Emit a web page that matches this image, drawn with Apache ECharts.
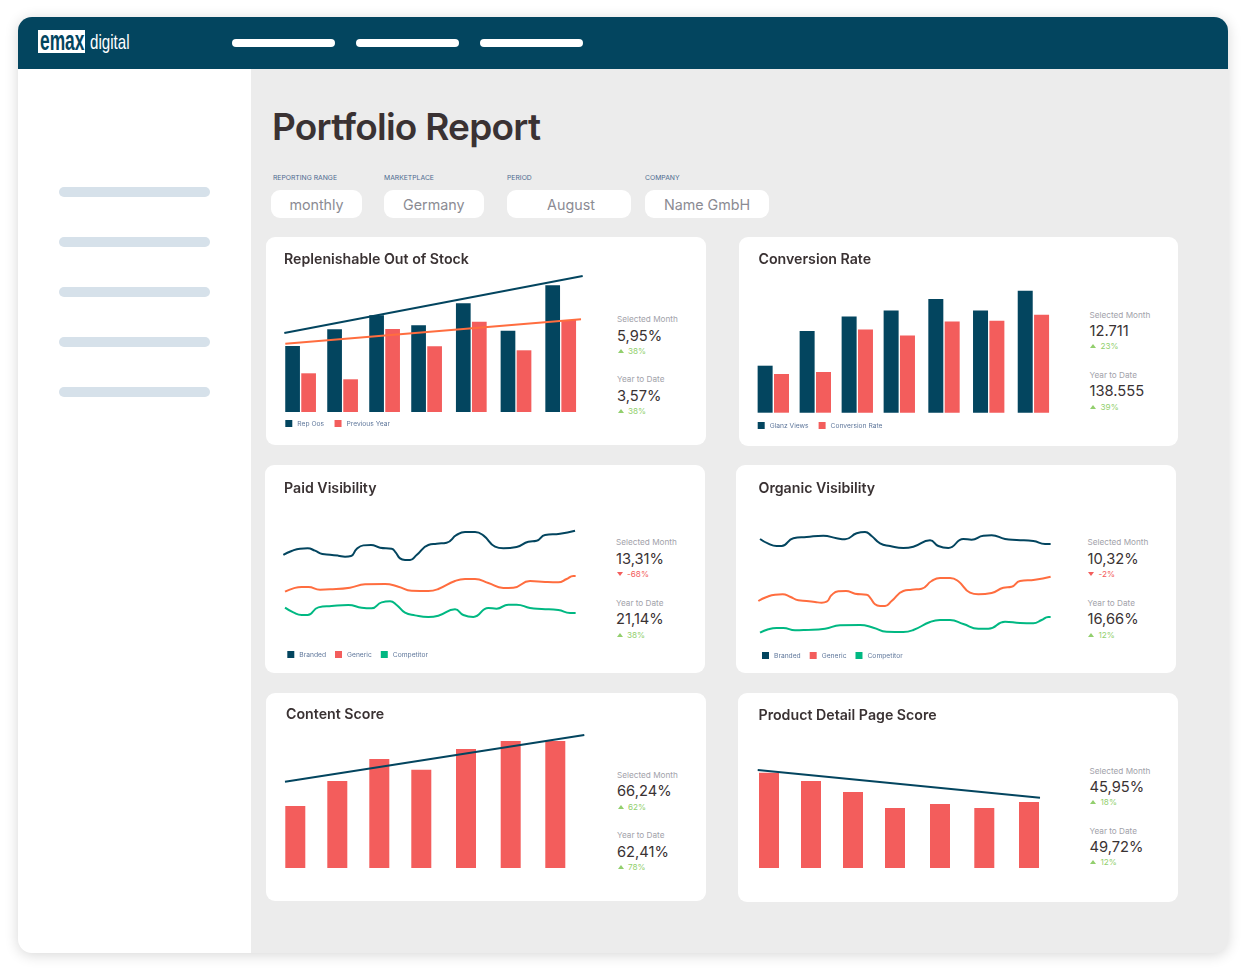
<!DOCTYPE html>
<html>
<head>
<meta charset="utf-8">
<title>Portfolio Report</title>
<script src="https://cdn.jsdelivr.net/npm/echarts@6/dist/echarts.min.js"></script>
<style>
html, body { margin: 0; padding: 0; background: #fff; }
body { width: 1246px; height: 972px; position: relative; overflow: hidden; font-family: Inter, "Noto Sans", sans-serif; }
.abs { position: absolute; }
#shell { left: 18px; top: 17px; width: 1210px; height: 936px; border-radius: 14px; background: #ececec; box-shadow: 0 2px 14px rgba(0,0,0,.16); overflow: hidden; }
#header { left: 0; top: 0; width: 1210px; height: 52px; background: #03455f; }
#sidebar { left: 0; top: 52px; width: 233px; height: 884px; background: #fff; }
.nav { height: 8px; width: 103px; top: 39px; background: #fff; border-radius: 4px; }
.side { left: 59px; width: 151px; height: 10px; background: #d6e1ea; border-radius: 5px; }
#logoBox { left: 37.5px; top: 30px; width: 47.5px; height: 23px; background: #fff; overflow: hidden; }
.logoText { font-family: "Liberation Sans", sans-serif; white-space: nowrap; transform-origin: left center; line-height: 23px; }
#pageTitle { left: 272px; top: 104px; font-size: 37px; line-height: 46px; font-weight: 600; letter-spacing: -0.75px; color: #3a3233; white-space: nowrap; }
.fLabel { top: 173px; font-size: 6.8px; line-height: 10px; color: #4d6a8f; white-space: nowrap; }
.pill { top: 190px; height: 28px; line-height: 29px; background: #fff; border-radius: 9px; font-size: 14.3px; color: #8b8b93; text-align: center; }
.card { background: #fff; border-radius: 9px; }
.sLabel { font-size: 8.2px; line-height: 10px; color: #a2a2aa; white-space: nowrap; }
.sValue { font-size: 14.7px; line-height: 20px; color: #3a3233; white-space: nowrap; }
.sDelta { font-size: 8.2px; line-height: 10px; white-space: nowrap; }
.tri { width: 0; height: 0; border-left: 3px solid transparent; border-right: 3px solid transparent; }
#main { left: 0; top: 0; width: 1246px; height: 972px; }
</style>
</head>
<body>
<div id="shell" class="abs">
  <div id="header" class="abs"></div>
  <div id="sidebar" class="abs"></div>
</div>
<div id="logoBox" class="abs"><div class="abs logoText" style="left:2.5px;top:-1px;font-size:28px;font-weight:bold;color:#03455f;transform:scaleX(.62)">emax</div></div>
<div class="abs logoText" style="left:90px;top:30px;font-size:21px;color:#fff;transform:scaleX(.72)">digital</div>
<div id="chrome"></div>
<div id="main" class="abs"></div>
<script>
const navLefts = [232, 356, 480];
const sideTops = [187, 237, 287, 337, 387];

const filters = [
    {label: 'REPORTING RANGE', value: 'monthly', left: 271, width: 91, labelLeft: 273},
    {label: 'MARKETPLACE', value: 'Germany', left: 383.5, width: 100.5, labelLeft: 384},
    {label: 'PERIOD', value: 'August', left: 507, width: 124, labelLeft: 507, pad: 4},
    {label: 'COMPANY', value: 'Name GmbH', left: 645, width: 124, labelLeft: 645}
];

// stock chart
const oosDays = [16.6, 58.6, 100.6, 142.6, 187.3, 232, 276.7];
const repOos = [66, 82.7, 96.7, 86.7, 108.7, 81.3, 126.7];
const oosPrevious = [38.7, 32.7, 83, 65.7, 90.3, 61.7, 92];
const oosTrend = [[0.3, 79], [298.7, 136]];
const oosPrevTrend = [[1.3, 68.3], [297, 92.7]];

// conversion chart
const glanzViews = [47, 81.7, 96.3, 102.3, 113.7, 102.3, 122];
const conversionRate = [38.7, 40.7, 83.3, 77.3, 91.3, 92, 98];

// visibility charts, [day, share]
const paidBranded = [[0, 76.7], [8.3, 80.7], [16.7, 83], [24.3, 83.3], [31.7, 81], [39, 77.7], [46.7, 77], [55, 76], [61.7, 75], [67.7, 75.7], [73.3, 82.7], [80, 86.3], [87.7, 86.7], [96.7, 84], [108.3, 83], [112.3, 79.3], [116.7, 73.3], [121.7, 71.7], [126.7, 71.7], [133.3, 76.7], [145, 86.7], [153.3, 88], [163.3, 89], [173.3, 96.7], [181.7, 99.7], [191.7, 99.7], [200, 96.3], [211.7, 85], [220, 83.3], [233.3, 84.7], [245, 90], [253.3, 91], [261.7, 96.7], [276.7, 98], [291.7, 101]];
const paidGeneric = [[1.7, 40], [10, 43.3], [18.3, 44.7], [25, 44.7], [36.7, 42], [46.7, 42.3], [66.7, 44], [81.7, 47.3], [101.7, 47.7], [115, 45], [128.3, 41], [145, 40.7], [155, 42.7], [171.7, 50.7], [181.7, 52.7], [191.7, 52.7], [205, 48.7], [220, 43.7], [230, 44], [246.7, 50.7], [261.7, 49.7], [275, 49.3], [283.3, 52.7], [290, 55.7], [292.3, 55.7]];
const paidCompetitor = [[1.7, 24], [10, 19.3], [18.3, 16.7], [24.3, 16.7], [35, 24.3], [48.3, 25.7], [65, 26.7], [78.3, 24], [88.3, 23.3], [98.3, 29.3], [106.7, 30.3], [113.3, 26.7], [121.7, 19], [131.7, 16.3], [145, 14.7], [155, 16], [171.7, 22.3], [180, 16.7], [190, 14.7], [205, 23.7], [213.3, 23], [225, 27], [233.3, 27], [246.7, 23.7], [258.3, 22.7], [275, 21.7], [286.7, 18.7], [292.3, 18.7]];

const organicBranded = [[1.7, 96], [10, 91.3], [18.3, 89], [23.3, 89], [35, 96.7], [48.3, 98], [65, 99.3], [78.3, 96.7], [86.7, 95.7], [98.3, 101.7], [106.7, 103], [113.3, 99], [121.7, 91.7], [131.7, 89], [145, 87], [155, 88.3], [171.7, 94.7], [180, 89], [190, 87], [205, 96], [213.3, 95.3], [225, 99.3], [233.3, 99.7], [246.7, 96], [258.3, 95], [275, 94], [286.7, 91], [292.3, 91]];
const organicGeneric = [[0, 34], [8.3, 38], [16.7, 40.3], [24.3, 40.7], [31.7, 38.3], [40, 34.7], [48.3, 34], [56.7, 33], [63.3, 32.3], [68.3, 33.3], [73.3, 40], [80, 43.7], [87.7, 44], [96.7, 41.3], [108.3, 40.3], [112.3, 36.7], [116.7, 30.7], [121.7, 29], [126.7, 29], [133.3, 34], [145, 44], [153.3, 45.3], [163.3, 46.3], [173.3, 54], [181.7, 57], [191.7, 57], [200, 53.7], [211.7, 42.3], [220, 40.7], [233.3, 42], [245, 47.3], [253.3, 48.3], [261.7, 54], [276.7, 55.3], [292.3, 58.3]];
const organicCompetitor = [[1.7, 2.3], [10, 5.7], [18.3, 7], [25, 7], [36.7, 4.7], [46.7, 5], [66.7, 6.3], [81.7, 9.7], [101.7, 10], [115, 7.3], [128.3, 3.3], [145, 3], [155, 5], [171.7, 13], [181.7, 15], [191.7, 15], [205, 11], [220, 6.3], [230, 6.3], [246.7, 13.3], [261.7, 12], [275, 11.7], [283.3, 15], [290, 18], [292.3, 18]];

// score charts
const contentDays = [11.3, 53.3, 95.3, 137.3, 182, 226.7, 271.3];
const contentScore = [62, 87, 109, 98.3, 119, 127, 127];
const contentTrend = [[1, 86.3], [300.3, 133]];
const pdpDays = [12, 54, 96, 138, 183, 227.3, 272];
const pdpScore = [95.3, 87, 76, 60, 64, 60, 66];
const pdpTrend = [[0.7, 98], [283, 70.3]];

const DARK = '#03455f', RED = '#f35d5c', ORANGE = '#ff6d3f', GREEN = '#00b882';
const UP = '#92cf6d', DOWN = '#f35d5c';

const cards = [
    {title: 'Replenishable Out of Stock', box: [266, 237, 440, 208], titleTop: 252, titleLeft: 284,
     statX: 617, statY: [319, 336, 351, 379, 396, 411],
     month: ['5,95%', '38%', 1], ytd: ['3,57%', '38%', 1]},
    {title: 'Conversion Rate', box: [738.5, 237, 439.5, 209], titleTop: 252, titleLeft: 758.5,
     statX: 1089.5, statY: [315, 331, 346, 375, 391, 407],
     month: ['12.711', '23%', 1], ytd: ['138.555', '39%', 1]},
    {title: 'Paid Visibility', box: [265, 465, 440, 208], titleTop: 481, titleLeft: 284,
     statX: 616, statY: [542, 559, 574, 603, 619, 635],
     month: ['13,31%', '-68%', 0], ytd: ['21,14%', '38%', 1]},
    {title: 'Organic Visibility', box: [736, 465, 440, 208], titleTop: 481, titleLeft: 758.5,
     statX: 1087.5, statY: [542, 559, 574, 603, 619, 635],
     month: ['10,32%', '-2%', 0], ytd: ['16,66%', '12%', 1]},
    {title: 'Content Score', box: [266, 693, 440, 208], titleTop: 707, titleLeft: 286,
     statX: 617, statY: [775, 791, 807, 835, 852, 867],
     month: ['66,24%', '62%', 1], ytd: ['62,41%', '78%', 1]},
    {title: 'Product Detail Page Score', box: [738, 693, 440, 209], titleTop: 708, titleLeft: 758.5,
     statX: 1089.5, statY: [771, 787, 802, 831, 847, 862],
     month: ['45,95%', '18%', 1], ytd: ['49,72%', '12%', 1]}
];

function el(cls, css, text) {
    let d = document.createElement('div');
    d.className = 'abs ' + cls;
    d.style.cssText = css;
    if (text) d.textContent = text;
    document.getElementById('chrome').appendChild(d);
    return d;
}

function statBlock(x, ys, label, stat) {
    el('sLabel', `left:${x}px;top:${ys[0] - 5}px`, label);
    el('sValue', `left:${x}px;top:${ys[1] - 10}px`, stat[0]);
    let color = stat[2] ? UP : DOWN;
    let tri = stat[2] ? `border-bottom:4px solid ${color}` : `border-top:4px solid ${color}`;
    el('tri', `left:${x + 0.6}px;top:${ys[2] - 2}px;${tri}`);
    el('sDelta', `left:${x + 11}px;top:${ys[2] - 5}px;color:${color}`, stat[1]);
}

navLefts.forEach(function (x) { el('nav', `left:${x}px`); });
sideTops.forEach(function (y) { el('side', `top:${y}px`); });
el('', '', '').id = 'pageTitle';
document.getElementById('pageTitle').textContent = 'Portfolio Report';

filters.forEach(function (f) {
    el('fLabel', `left:${f.labelLeft}px`, f.label);
    el('pill', `left:${f.left}px;width:${f.width}px;text-indent:${f.pad || 0}px`, f.value);
});

cards.forEach(function (c) {
    el('card', `left:${c.box[0]}px;top:${c.box[1]}px;width:${c.box[2]}px;height:${c.box[3]}px`);
    statBlock(c.statX, c.statY.slice(0, 3), 'Selected Month', c.month);
    statBlock(c.statX, c.statY.slice(3), 'Year to Date', c.ytd);
});

function barSeries(name, xs, ys, color, idx, width) {
    return {
        name: name, type: 'bar', xAxisIndex: idx, yAxisIndex: idx,
        barWidth: width, barGap: '9%', silent: true,
        itemStyle: {color: color},
        data: xs.map(function (x, i) { return [x, ys[i]]; })
    };
}

function lineSeries(name, data, color, idx, smooth) {
    return {
        name: name, type: 'line', xAxisIndex: idx, yAxisIndex: idx,
        data: data, smooth: smooth, showSymbol: false, silent: true, clip: false,
        lineStyle: {color: color, width: 2}, itemStyle: {color: color}
    };
}

function legend(left, top, items, gap) {
    return {
        left: left, top: top, itemWidth: 7, itemHeight: 7, itemGap: gap, icon: 'rect',
        selectedMode: false, padding: 0,
        textStyle: {fontFamily: 'Inter', fontSize: 6.7, color: '#5f779b'},
        data: items.map(function (it) { return {name: it[0], itemStyle: {color: it[1]}}; })
    };
}

// grid area of each card: left, bottom baseline, height in value units
const plots = [[284, 412, 140], [756.7, 412.7, 140], [283.33, 631.67, 120], [758.33, 635, 120], [284, 868, 140], [757, 868, 140]];

let option = {
    animation: false,
    title: cards.map(function (c) {
        return {
            text: c.title, left: c.titleLeft, top: c.titleTop, padding: 0,
            textStyle: {fontFamily: 'Inter', fontSize: 14.2, fontWeight: 600, color: '#3a3233', lineHeight: 16}
        };
    }),
    grid: plots.map(function (p) {
        return {left: p[0], width: 304, top: p[1] - p[2], height: p[2]};
    }),
    xAxis: plots.map(function (p, i) {
        return {type: 'value', gridIndex: i, min: 0, max: 304, show: false};
    }),
    yAxis: plots.map(function (p, i) {
        return {type: 'value', gridIndex: i, min: 0, max: p[2], show: false};
    }),
    legend: [
        legend(285.3, 420, [['Rep Oos', DARK], ['Previous Year', RED]], 10.5),
        legend(757.7, 422, [['Glanz Views', DARK], ['Conversion Rate', RED]], 10),
        legend(287.3, 651, [['Branded', DARK], ['Generic', RED], ['Competitor', GREEN]], 9),
        legend(762, 652, [['Branded', DARK], ['Generic', RED], ['Competitor', GREEN]], 9)
    ],
    series: [
        barSeries('Rep Oos', oosDays, repOos, DARK, 0, 14.7),
        barSeries('Previous Year', oosDays, oosPrevious, RED, 0, 14.7),
        lineSeries('Previous Year Trend', oosPrevTrend, ORANGE, 0, false),
        lineSeries('Rep Oos Trend', oosTrend, DARK, 0, false),

        barSeries('Glanz Views', oosDays, glanzViews, DARK, 1, 15),
        barSeries('Conversion Rate', oosDays, conversionRate, RED, 1, 15),

        lineSeries('Branded', paidBranded, DARK, 2, 0.5),
        lineSeries('Generic', paidGeneric, ORANGE, 2, 0.5),
        lineSeries('Competitor', paidCompetitor, GREEN, 2, 0.5),

        lineSeries('Branded', organicBranded, DARK, 3, 0.5),
        lineSeries('Generic', organicGeneric, ORANGE, 3, 0.5),
        lineSeries('Competitor', organicCompetitor, GREEN, 3, 0.5),

        barSeries('Content Score', contentDays, contentScore, RED, 4, 20),
        lineSeries('Content Trend', contentTrend, DARK, 4, false),

        barSeries('PDP Score', pdpDays, pdpScore, RED, 5, 20),
        lineSeries('PDP Trend', pdpTrend, DARK, 5, false)
    ]
};

let myChart = echarts.init(document.getElementById('main'));
myChart.setOption(option);
</script>
</body>
</html>
